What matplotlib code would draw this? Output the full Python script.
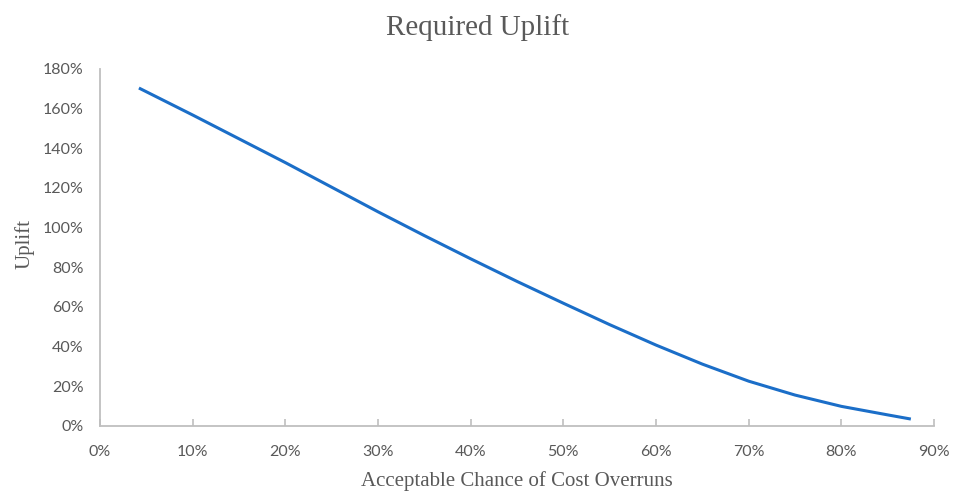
#!/usr/bin/env python3

from matplotlib import pyplot as plt
from matplotlib.ticker import MultipleLocator, FuncFormatter

# Werte (in %)
chance = [4.2, 10, 15, 20, 25, 30, 35, 40, 45, 50, 55, 60, 65, 70, 75, 80, 85, 87.5]
uplift = [170.4, 156.8, 144.8, 132.8, 120.4, 108, 96, 84.3, 72.9, 61.9, 51.1, 40.8, 31.2, 22.6, 15.6, 9.9, 5.6, 3.5]

title = 'Required Uplift'
x_label = 'Acceptable Chance of Cost Overruns'
y_label = 'Uplift'

TXT = '#595959'
AX = '#bfbfbf'
LINE = '#1b6ec8'

SERIF = ['Liberation Serif', 'DejaVu Serif']
SANS = ['Lato', 'DejaVu Sans']

pct = FuncFormatter(lambda v, p: '{:.0f}%'.format(v))

fig = plt.figure(figsize=(9.56, 4.91), dpi=100)
ax1 = fig.add_axes([0.1046, 0.1324, 0.977 - 0.1046, 0.8595 - 0.1324])

ax1.plot(chance, uplift, color=LINE, linewidth=2.2, solid_capstyle='butt')

ax1.set_xlim(0, 90)
ax1.set_ylim(0, 180)
ax1.xaxis.set_major_locator(MultipleLocator(10))
ax1.yaxis.set_major_locator(MultipleLocator(20))
ax1.xaxis.set_major_formatter(pct)
ax1.yaxis.set_major_formatter(pct)

for s in ['top', 'right']:
    ax1.spines[s].set_visible(False)
for s in ['left', 'bottom']:
    ax1.spines[s].set_color(AX)
    ax1.spines[s].set_linewidth(1.3)

ax1.tick_params(axis='x', direction='in', length=5, width=1.2, color=AX,
                labelcolor=TXT, pad=14)
ax1.tick_params(axis='y', length=0, labelcolor=TXT, pad=12)
for lab in ax1.get_xticklabels() + ax1.get_yticklabels():
    lab.set_family(SANS)
    lab.set_fontsize(11.5)

fig.text(0.5, 0.943, title, ha='center', va='center', color=TXT,
         family=SERIF, fontsize=21)
fig.text(0.5405, 0.020, x_label, ha='center', va='center', color=TXT,
         family=SERIF, fontsize=15)
fig.text(0.026, 0.503, y_label, ha='center', va='center', color=TXT,
         family=SERIF, fontsize=15, rotation=90)

fig.savefig('out.png', dpi=100)
plt.close()
